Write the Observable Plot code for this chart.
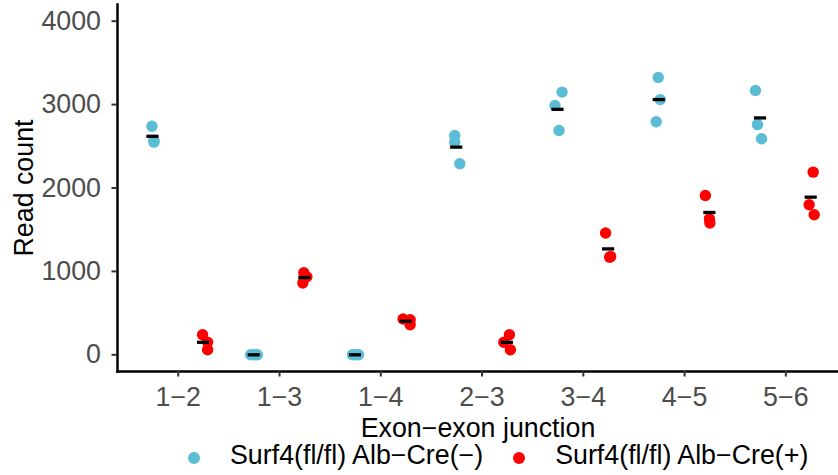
<!DOCTYPE html>
<html>
<head>
<meta charset="utf-8">
<script src="https://cdn.jsdelivr.net/npm/d3@7"></script>
<script src="https://cdn.jsdelivr.net/npm/@observablehq/plot@0.6"></script>
<style>
  body { margin: 0; background: #fff; font-family: "Liberation Sans", Arial, sans-serif; }
  #chart { position: absolute; left: 0; top: 0; }
  #legend { position: absolute; left: 0; top: 440px; height: 30px; display: flex; align-items: center;
            font-size: 26.8px; color: #000; padding-left: 188px; white-space: nowrap; }
  .sw { width: 12px; height: 12px; border-radius: 50%; margin-top: 5px; margin-right: 30px; flex: none; }
  .item { display: flex; align-items: center; }
  .item + .item { margin-left: 30px; }
</style>
</head>
<body>
<div id="chart"></div>
<div id="legend"></div>
<script>
// ---- data ----
const categories = ["1\u22122", "1\u22123", "1\u22124", "2\u22123", "3\u22124", "4\u22125", "5\u22126"];
const groups = ["Surf4(fl/fl) Alb\u2212Cre(\u2212)", "Surf4(fl/fl) Alb\u2212Cre(+)"];
const colors = ["#5BBCD6", "#FF0000"];
const yTicks = [0, 1000, 2000, 3000, 4000];

// read counts, three replicates per junction
const creNeg = [
  [2740, 2570, 2550],
  [0, 0, 0],
  [0, 0, 0],
  [2630, 2550, 2290],
  [3150, 2990, 2690],
  [3325, 3060, 2795],
  [3170, 2760, 2590]
];
const crePos = [
  [240, 150, 60],
  [985, 935, 860],
  [430, 420, 360],
  [240, 150, 60],
  [1460, 1180, 1170],
  [1910, 1630, 1580],
  [2190, 1800, 1680]
];
// horizontal jitter of each point (in category units), as seen in the picture
const jitterNeg = [
  [-0.01, 0.01, 0.01],
  [-0.035, 0.03, 0.0],
  [-0.03, 0.03, 0.0],
  [-0.02, -0.02, 0.03],
  [0.04, -0.03, 0.01],
  [-0.01, 0.01, -0.03],
  [-0.05, -0.03, 0.01]
];
const jitterPos = [
  [-0.01, 0.04, 0.04],
  [-0.01, 0.02, -0.02],
  [-0.03, 0.04, 0.04],
  [0.02, -0.035, 0.03],
  [-0.03, 0.02, 0.01],
  [-0.045, -0.005, 0.0],
  [0.02, -0.02, 0.03]
];

// ---- build tables ----
const dodge = 0.25;
const series = [
  {group: groups[0], values: creNeg, jitter: jitterNeg, shift: -dodge},
  {group: groups[1], values: crePos, jitter: jitterPos, shift: dodge}
];
const rows = [];
const means = [];
series.forEach(s => {
  categories.forEach((c, i) => {
    const center = i + 1 + s.shift;
    s.values[i].forEach((v, j) => {
      rows.push({category: c, group: s.group, value: v, pos: center + s.jitter[i][j]});
    });
    means.push({category: c, group: s.group, mean: d3.mean(s.values[i]), pos: center});
  });
});

const font = "'Liberation Sans', Arial, Helvetica, sans-serif";
const chart = Plot.plot({
  width: 838,
  height: 440,
  marginLeft: 117,
  marginRight: 0,
  marginTop: 4,
  marginBottom: 69,
  style: {fontFamily: font, fontSize: "26.8px", background: "#fff", overflow: "visible"},
  x: {type: "linear", domain: [0.4, 7.52]},
  y: {domain: [-200, 4200]},
  color: {domain: groups, range: colors},
  marks: [
    Plot.frame({anchor: "left", stroke: "#000", strokeWidth: 2.5}),
    Plot.frame({anchor: "bottom", stroke: "#000", strokeWidth: 2.5}),
    Plot.axisY({ticks: yTicks, tickFormat: d3.format("d"), tickSize: 5.5, tickPadding: 11, fill: "#4D4D4D", stroke: "#333", strokeWidth: 2, label: null}),
    Plot.axisY({ticks: [], tickSize: 0, label: "Read count", labelAnchor: "center", labelOffset: 104, labelArrow: "none", fill: "#000"}),
    Plot.axisX({ticks: d3.range(1, categories.length + 1), tickFormat: i => categories[i - 1], tickSize: 5.5, tickPadding: 10,
                fill: "#4D4D4D", stroke: "#333", strokeWidth: 2, label: null}),
    Plot.axisX({ticks: [], tickSize: 0, label: "Exon\u2212exon junction", labelAnchor: "center", labelOffset: 65, labelArrow: "none", fill: "#000", dx: 5}),
    Plot.dot(rows, {x: "pos", y: "value", fill: "group", r: 5.7}),
    Plot.ruleY(means, {y: "mean", x1: d => d.pos - 0.06, x2: d => d.pos + 0.06, stroke: "#000", strokeWidth: 3.3})
  ]
});
document.getElementById("chart").append(chart);

// ---- legend ----
const legend = document.getElementById("legend");
groups.forEach((g, i) => {
  const item = document.createElement("div");
  item.className = "item";
  const sw = document.createElement("span");
  sw.className = "sw";
  sw.style.background = colors[i];
  const label = document.createElement("span");
  label.textContent = g;
  item.append(sw, label);
  legend.append(item);
});
</script>
</body>
</html>
